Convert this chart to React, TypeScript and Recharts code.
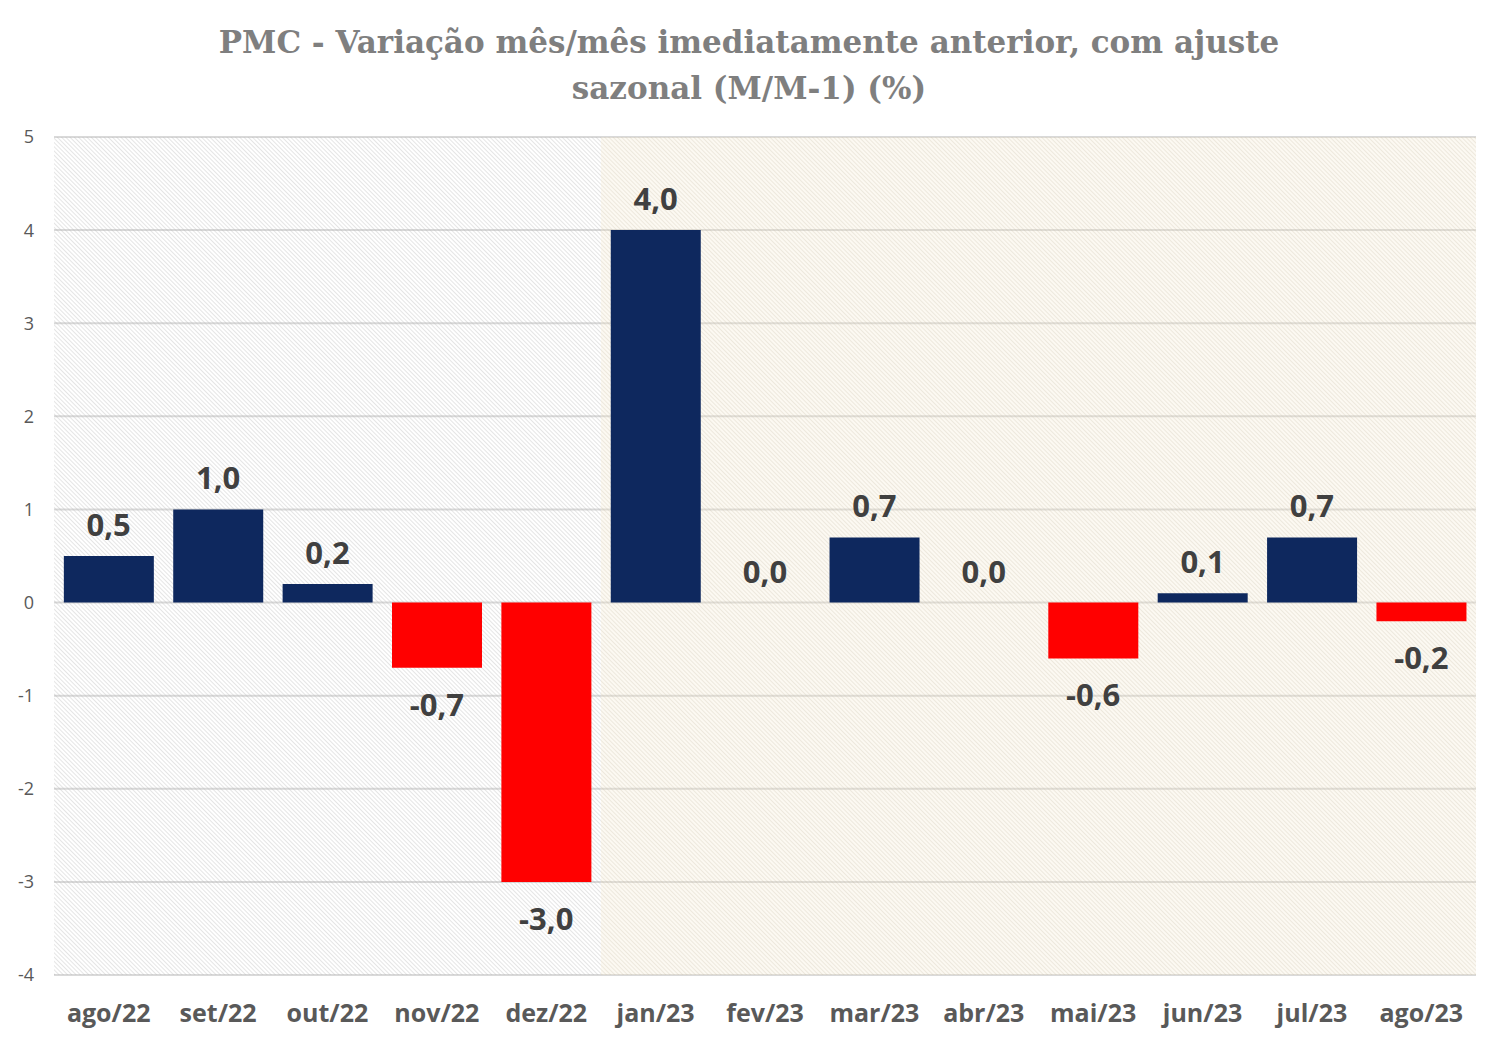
import React from 'react';
import {
  ComposedChart,
  Bar,
  Line,
  Cell,
  XAxis,
  YAxis,
  CartesianGrid,
  ReferenceArea,
  LabelList,
} from 'recharts';

const months = [
  'ago/22', 'set/22', 'out/22', 'nov/22', 'dez/22', 'jan/23', 'fev/23',
  'mar/23', 'abr/23', 'mai/23', 'jun/23', 'jul/23', 'ago/23',
];
const variation = [0.5, 1.0, 0.2, -0.7, -3.0, 4.0, 0.0, 0.7, 0.0, -0.6, 0.1, 0.7, -0.2];
const yTicks = [-4, -3, -2, -1, 0, 1, 2, 3, 4, 5];

const NAVY = '#0e285e';
const RED = '#ff0000';
const SANS = "'Open Sans', 'Noto Sans', sans-serif";

const data = months.map((m, i) => ({ month: m, value: variation[i] }));

const fmt = (v: number) => v.toFixed(1).replace('.', ',');

// label sits above positive/zero bars and below negative ones
const ValueLabel = (props: any) => {
  const { x, y, value } = props;
  const cy = value < 0 ? y + 36 : y - 32;
  return (
    <text
      x={x}
      y={cy}
      textAnchor="middle"
      dominantBaseline="central"
      fontFamily={SANS}
      fontWeight={700}
      fontSize={31}
      fill="#404040"
    >
      {fmt(value)}
    </text>
  );
};

export default function App() {
  return (
    <div style={{ position: 'relative', width: 1498, height: 1046, margin: -8, background: '#fff' }}>
      <div
        style={{
          position: 'absolute',
          top: 19,
          left: 0,
          width: 1498,
          textAlign: 'center',
          fontFamily: "'DejaVu Serif', serif",
          fontWeight: 700,
          fontSize: 31,
          lineHeight: '46px',
          color: '#7f7f7f',
        }}
      >
        PMC - Variação mês/mês imediatamente anterior, com ajuste
        <br />
        sazonal (M/M-1) (%)
      </div>
      <ComposedChart
        width={1498}
        height={1046}
        data={data}
        margin={{ top: 137, right: 22, bottom: 0, left: 0 }}
        barCategoryGap="9%"
      >
        <defs>
          <pattern id="hatchGray" width="3" height="3" patternUnits="userSpaceOnUse" patternTransform="rotate(-45)">
            <line x1="0" y1="0" x2="0" y2="3" stroke="#b0b0b0" strokeOpacity="0.55" strokeWidth="1.2" />
          </pattern>
          <pattern id="hatchBeige" width="3" height="3" patternUnits="userSpaceOnUse" patternTransform="rotate(-45)">
            <rect x="0" y="0" width="3" height="3" fill="#f2e6cc" fillOpacity="0.25" />
            <line x1="0" y1="0" x2="0" y2="3" stroke="#bdb29c" strokeOpacity="0.4" strokeWidth="1.2" />
          </pattern>
        </defs>
        <ReferenceArea x1="ago/22" x2="dez/22" fill="url(#hatchGray)" fillOpacity={1} strokeWidth={0} ifOverflow="visible" />
        <ReferenceArea x1="jan/23" fill="url(#hatchBeige)" fillOpacity={1} strokeWidth={0} ifOverflow="visible" />
        <CartesianGrid vertical={false} stroke="#d9d9d9" strokeWidth={2} />
        <XAxis
          dataKey="month"
          axisLine={false}
          tickLine={false}
          tickSize={0}
          tickMargin={29}
          height={71}
          interval={0}
          tick={{ fontFamily: SANS, fontWeight: 700, fontSize: 25, fill: '#595959' }}
        />
        <YAxis
          domain={[-4, 5]}
          ticks={yTicks}
          interval={0}
          axisLine={false}
          tickLine={false}
          tickSize={0}
          tickMargin={20}
          width={54}
          tick={{ fontFamily: SANS, fontSize: 18, fill: '#595959' }}
        />
        <Bar dataKey="value" isAnimationActive={false}>
          {data.map((d) => (
            <Cell key={d.month} fill={d.value < 0 ? RED : NAVY} />
          ))}
        </Bar>
        <Line
          dataKey="value"
          stroke="none"
          dot={false}
          activeDot={false}
          legendType="none"
          isAnimationActive={false}
        >
          <LabelList dataKey="value" content={ValueLabel} />
        </Line>
      </ComposedChart>
      <div
        style={{
          position: 'absolute',
          inset: 0,
          border: '2px solid #d9d9d9',
          pointerEvents: 'none',
        }}
      />
    </div>
  );
}
